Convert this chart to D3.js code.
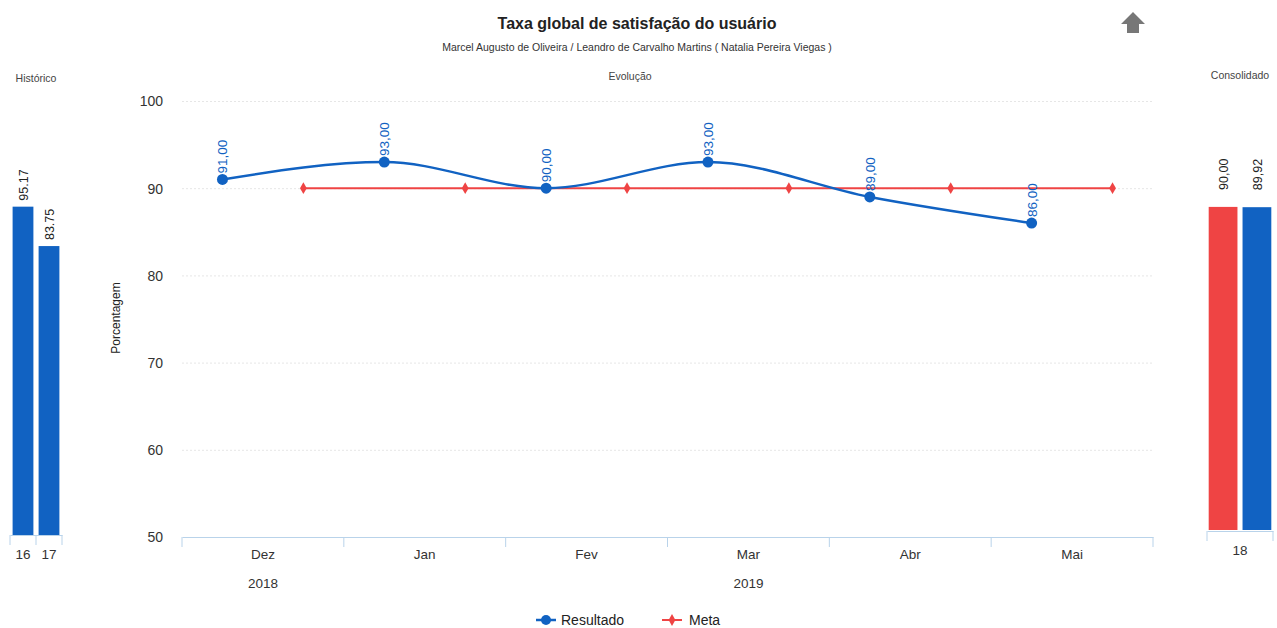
<!DOCTYPE html>
<html>
<head>
<meta charset="utf-8">
<script src="https://cdn.jsdelivr.net/npm/d3@7"></script>
<style>
  body { margin: 0; background: #fff; }
  text { font-family: "Liberation Sans", Arial, sans-serif; }
  .grid line { stroke: #e6e6e6; stroke-dasharray: 2,2; }
  .grid path { display: none; }
  .axis--x path, .axis--x line { stroke: #b9d3ea; }
</style>
</head>
<body>
<svg width="1277" height="628"></svg>
<script>
var months = ["Dez", "Jan", "Fev", "Mar", "Abr", "Mai"];
var years = [["Dez", "2018"], ["Mar", "2019"]];
var resultado = [91, 93, 90, 93, 89, 86];
var meta = [90, 90, 90, 90, 90, 90];
var yTicks = [50, 60, 70, 80, 90, 100];

var histCats = ["16", "17"];
var histValues = [95.17, 83.75];
var histLabels = ["95.17", "83.75"];

var consCat = "18";
var consSeries = ["Meta", "Resultado"];
var consValues = [90.00, 89.92];

var blue = "#1162c2";
var red = "#ef4444";
var fmt = v => v.toFixed(2).replace(".", ",");

var svg = d3.select("svg");

// titles
svg.append("text").attr("x", 637).attr("y", 29).attr("text-anchor", "middle")
  .style("font-size", "16px").style("font-weight", "bold").attr("fill", "#222")
  .text("Taxa global de satisfação do usuário");
svg.append("text").attr("x", 637).attr("y", 51).attr("text-anchor", "middle")
  .style("font-size", "10.5px").attr("fill", "#333")
  .text("Marcel Augusto de Oliveira / Leandro de Carvalho Martins ( Natalia Pereira Viegas )");
svg.append("text").attr("x", 630).attr("y", 80).attr("text-anchor", "middle")
  .style("font-size", "10.5px").attr("fill", "#444").text("Evolução");
svg.append("text").attr("x", 36).attr("y", 82).attr("text-anchor", "middle")
  .style("font-size", "10.5px").attr("fill", "#444").text("Histórico");
svg.append("text").attr("x", 1240).attr("y", 79).attr("text-anchor", "middle")
  .style("font-size", "10.5px").attr("fill", "#444").text("Consolidado");

// up arrow icon
svg.append("path")
  .attr("d", "M1133,12 L1145,24 L1139,24 L1139,33 L1127,33 L1127,24 L1121,24 Z")
  .attr("fill", "#777");

// ---------- main chart ----------
var x0 = d3.scaleBand().domain(months).range([182, 1153]);
var x1 = d3.scaleBand().domain(["Resultado", "Meta"]).range([0, x0.bandwidth()]);
var y = d3.scaleLinear().domain([50, 100]).range([537, 101]);

var g = svg.append("g");

g.append("g").attr("class", "grid")
  .attr("transform", "translate(182,0)")
  .call(d3.axisLeft(y).tickValues(yTicks.slice(1)).tickSize(-(1153 - 182)).tickFormat(""));

g.append("g")
  .attr("transform", "translate(163,0)")
  .call(d3.axisLeft(y).tickValues(yTicks).tickSize(0).tickPadding(0))
  .call(a => a.select(".domain").remove())
  .selectAll("text").style("font-size", "14px").attr("fill", "#333").attr("dy", "0.35em");

g.append("text").attr("transform", "rotate(-90)")
  .attr("x", -318).attr("y", 120).attr("text-anchor", "middle")
  .style("font-size", "12px").attr("fill", "#222").text("Porcentagem");

var xAxis = g.append("g").attr("class", "axis axis--x")
  .attr("transform", "translate(0,537)")
  .call(d3.axisBottom(x0).tickSize(0).tickPadding(12));
xAxis.selectAll("text").style("font-size", "13.5px").attr("fill", "#333");
xAxis.selectAll(".bound").data(months.concat(["end"])).enter().append("line")
  .attr("x1", (d, i) => x0.range()[0] + i * x0.step())
  .attr("x2", (d, i) => x0.range()[0] + i * x0.step())
  .attr("y1", 0).attr("y2", 10);

g.selectAll(".year").data(years).enter().append("text")
  .attr("x", d => x0(d[0]) + x0.bandwidth() / 2).attr("y", 588)
  .attr("text-anchor", "middle").style("font-size", "13.5px").attr("fill", "#333")
  .text(d => d[1]);

var rx = (d, i) => x0(months[i]) + x1("Resultado") + x1.bandwidth() / 2;
var mx = (d, i) => x0(months[i]) + x1("Meta") + x1.bandwidth() / 2;

g.append("path").datum(meta)
  .attr("fill", "none").attr("stroke", red).attr("stroke-width", 2)
  .attr("d", d3.line().x(mx).y(d => y(d)));
g.selectAll(".mdot").data(meta).enter().append("path")
  .attr("transform", (d, i) => `translate(${mx(d, i)},${y(d)})`)
  .attr("d", d3.symbol(d3.symbolDiamond, 40)).attr("fill", red);

g.append("path").datum(resultado)
  .attr("fill", "none").attr("stroke", blue).attr("stroke-width", 2.5)
  .attr("d", d3.line().x(rx).y(d => y(d)).curve(d3.curveMonotoneX));
g.selectAll(".rdot").data(resultado).enter().append("circle")
  .attr("cx", rx).attr("cy", d => y(d)).attr("r", 5.5).attr("fill", blue);
g.selectAll(".rlab").data(resultado).enter().append("text")
  .attr("transform", (d, i) => `translate(${rx(d, i) + 5},${y(d) - 6}) rotate(-90)`)
  .style("font-size", "13.5px").attr("fill", blue)
  .text(fmt);

// legend
var leg = svg.append("g").attr("transform", "translate(0,620)");
leg.append("line").attr("x1", 536).attr("x2", 556).attr("stroke", blue).attr("stroke-width", 2.5);
leg.append("circle").attr("cx", 546).attr("r", 5).attr("fill", blue);
leg.append("text").attr("x", 561).attr("dy", "0.35em").style("font-size", "14px").attr("fill", "#222").text("Resultado");
leg.append("line").attr("x1", 662).attr("x2", 682).attr("stroke", red).attr("stroke-width", 2);
leg.append("path").attr("transform", "translate(672,0)").attr("d", d3.symbol(d3.symbolDiamond, 40)).attr("fill", red);
leg.append("text").attr("x", 689).attr("dy", "0.35em").style("font-size", "14px").attr("fill", "#222").text("Meta");

// ---------- historico ----------
var hx = d3.scaleBand().domain(histCats).range([10, 62]).paddingInner(0.2).paddingOuter(0.1);
var hy = d3.scaleLinear().domain([0, 100]).range([535, 190]);
var hg = svg.append("g");
hg.selectAll("rect").data(histValues).enter().append("rect")
  .attr("x", (d, i) => hx(histCats[i])).attr("width", hx.bandwidth())
  .attr("y", d => hy(d)).attr("height", d => hy(0) - hy(d)).attr("fill", blue);
hg.selectAll(".hlab").data(histValues).enter().append("text")
  .attr("transform", (d, i) => `translate(${hx(histCats[i]) + hx.bandwidth() / 2 + 5},${hy(d) - 6}) rotate(-90)`)
  .style("font-size", "12.5px").attr("fill", "#222").text((d, i) => histLabels[i]);
var hAxis = hg.append("g").attr("class", "axis axis--x").attr("transform", "translate(0,535)")
  .call(d3.axisBottom(d3.scaleBand().domain(histCats).range([10, 62])).tickSize(0).tickPadding(14));
hAxis.selectAll("text").style("font-size", "13.5px").attr("fill", "#333");
hAxis.selectAll(".hb").data([10, 36, 62]).enter().append("line")
  .attr("x1", d => d).attr("x2", d => d).attr("y1", 0).attr("y2", 10);

// ---------- consolidado ----------
var cx0 = d3.scaleBand().domain([consCat]).range([1207, 1273]);
var cx1 = d3.scaleBand().domain(consSeries).range([0, cx0.bandwidth()]).paddingInner(0.15).paddingOuter(0.05);
var cy = d3.scaleLinear().domain([0, 100]).range([530, 171]);
var cg = svg.append("g");
cg.selectAll("rect").data(consValues).enter().append("rect")
  .attr("x", (d, i) => cx0(consCat) + cx1(consSeries[i])).attr("width", cx1.bandwidth())
  .attr("y", d => cy(d)).attr("height", d => cy(0) - cy(d))
  .attr("fill", (d, i) => i === 0 ? red : blue);
cg.selectAll(".clab").data(consValues).enter().append("text")
  .attr("transform", (d, i) => `translate(${cx0(consCat) + cx1(consSeries[i]) + cx1.bandwidth() / 2 + 5},${cy(d) - 17}) rotate(-90)`)
  .style("font-size", "12.5px").attr("fill", "#222").text(fmt);
var cAxis = cg.append("g").attr("class", "axis axis--x").attr("transform", "translate(0,531)")
  .call(d3.axisBottom(cx0).tickSize(0).tickPadding(14));
cAxis.selectAll("text").style("font-size", "13.5px").attr("fill", "#333");
cAxis.selectAll(".cb").data([1207, 1273]).enter().append("line")
  .attr("x1", d => d).attr("x2", d => d).attr("y1", 0).attr("y2", 10);
</script>
</body>
</html>
